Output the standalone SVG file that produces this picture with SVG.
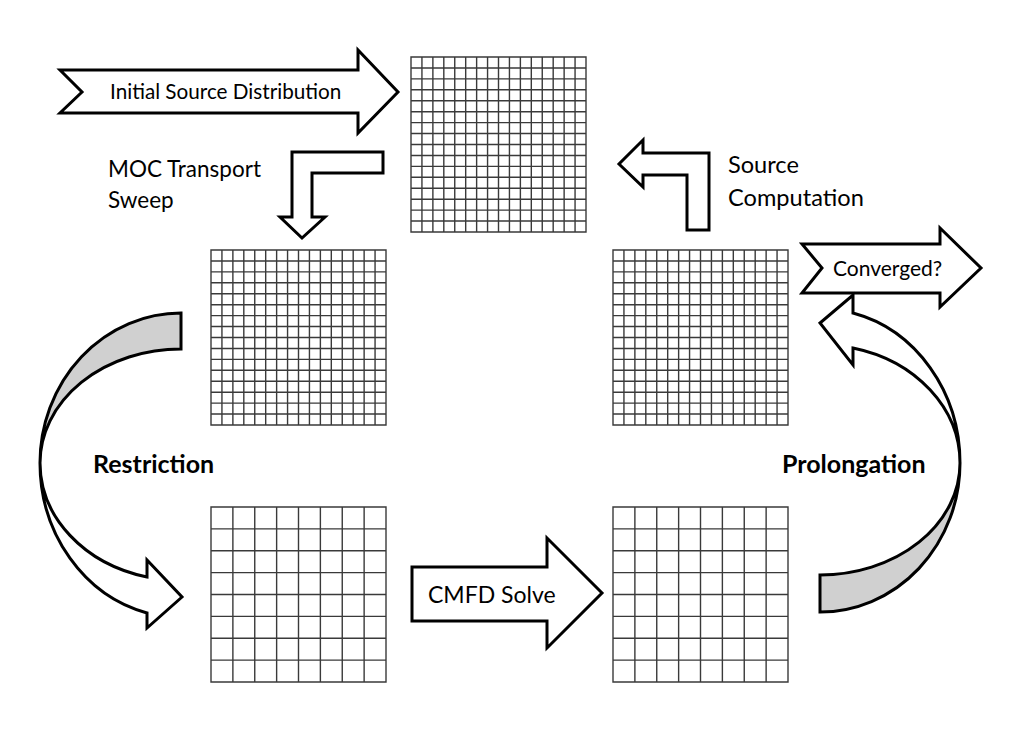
<svg xmlns="http://www.w3.org/2000/svg" xmlns:xlink="http://www.w3.org/1999/xlink" width="1015" height="746" viewBox="0 0 1015 746">
<style>
.arrow{fill:#fff;stroke:#000;stroke-width:3;stroke-linejoin:miter}
.back{fill:#d0d0d0;stroke:#000;stroke-width:3}
.grid{fill:none;stroke:#3a3a3a;stroke-width:1.4}
.lbl{font-family:Lato,"Liberation Sans",sans-serif;fill:#000}
.bold{font-family:Lato,"Liberation Sans",sans-serif;font-weight:bold;fill:#000}
</style>
<defs>
<path id="fine" class="grid" d="M0,0H175V175H0Z M10.94,0V175 M21.88,0V175 M32.81,0V175 M43.75,0V175 M54.69,0V175 M65.63,0V175 M76.56,0V175 M87.5,0V175 M98.44,0V175 M109.38,0V175 M120.31,0V175 M131.25,0V175 M142.19,0V175 M153.13,0V175 M164.06,0V175 M0,10.94H175 M0,21.88H175 M0,32.81H175 M0,43.75H175 M0,54.69H175 M0,65.63H175 M0,76.56H175 M0,87.5H175 M0,98.44H175 M0,109.38H175 M0,120.31H175 M0,131.25H175 M0,142.19H175 M0,153.13H175 M0,164.06H175"/>
<path id="coarse" class="grid" d="M0,0H175V175H0Z M21.88,0V175 M43.75,0V175 M65.63,0V175 M87.5,0V175 M109.38,0V175 M131.25,0V175 M153.13,0V175 M0,21.88H175 M0,43.75H175 M0,65.63H175 M0,87.5H175 M0,109.38H175 M0,131.25H175 M0,153.13H175"/>
</defs>
<rect width="1015" height="746" fill="#fff"/>
<g id="grid-top"><use xlink:href="#fine" x="411" y="57"/></g>
<g id="grid-fine-left"><use xlink:href="#fine" x="211" y="250"/></g>
<g id="grid-fine-right"><use xlink:href="#fine" x="613" y="250"/></g>
<g id="grid-coarse-left"><use xlink:href="#coarse" x="211" y="507"/></g>
<g id="grid-coarse-right"><use xlink:href="#coarse" x="613" y="507"/></g>
<g id="connectors">
<g id="arrow-initial">
<polygon class="arrow" points="60,70 358,70 358,50 398,92 358,133 358,113 60,113 82,92"/>
<text class="lbl" x="110" y="99" font-size="20.7">Initial Source Distribution</text>
</g>
<g id="arrow-moc">
<polygon class="arrow" points="383,152 292,152 292,217 280,217 302,238 325,217 312,217 312,173 383,173"/>
</g>
<g id="arrow-source">
<polygon class="arrow" points="709,230 709,153 643,153 643,140 619,164 643,187 643,175 687,175 687,230"/>
</g>
<g id="arrow-converged">
<polygon class="arrow" points="802,244 940,244 940,228 981,268 940,307 940,293 802,293 822,268"/>
<text class="lbl" x="833" y="276" font-size="21">Converged?</text>
</g>
<g id="arrow-cmfd">
<polygon class="arrow" points="412,567 547,567 547,538 602,593 547,648 547,621 412,621"/>
<text class="lbl" x="428" y="603" font-size="23">CMFD Solve</text>
</g>
<g id="arrow-restriction">
<path class="back" d="M181,313 A141,150 0 0 0 40,463 A141,114 0 0 1 181,349 Z"/>
<path class="arrow" d="M40,463 A141,117.5 0 0 0 147,577 L147,560 L182,597 L147,628 L147,613 A141,154.6 0 0 1 40,463 Z"/>
</g>
<g id="arrow-prolongation">
<path class="back" d="M820,612 A140,149 0 0 0 960,463 A140,112 0 0 1 820,575 Z"/>
<path class="arrow" d="M960,463 A140,154.3 0 0 0 853,313 L853,295 L820,323 L853,365 L853,348 A140,118.3 0 0 1 960,463 Z"/>
</g>
</g>
<g id="labels">
<text class="lbl" x="108" y="177" font-size="22.5">MOC Transport</text>
<text class="lbl" x="108" y="208" font-size="22.5">Sweep</text>
<text class="lbl" x="728" y="173" font-size="23.6">Source</text>
<text class="lbl" x="728" y="206" font-size="23.6">Computation</text>
<text class="bold" x="93" y="473" font-size="25">Restriction</text>
<text class="bold" x="782" y="473" font-size="25">Prolongation</text>
</g>
</svg>
